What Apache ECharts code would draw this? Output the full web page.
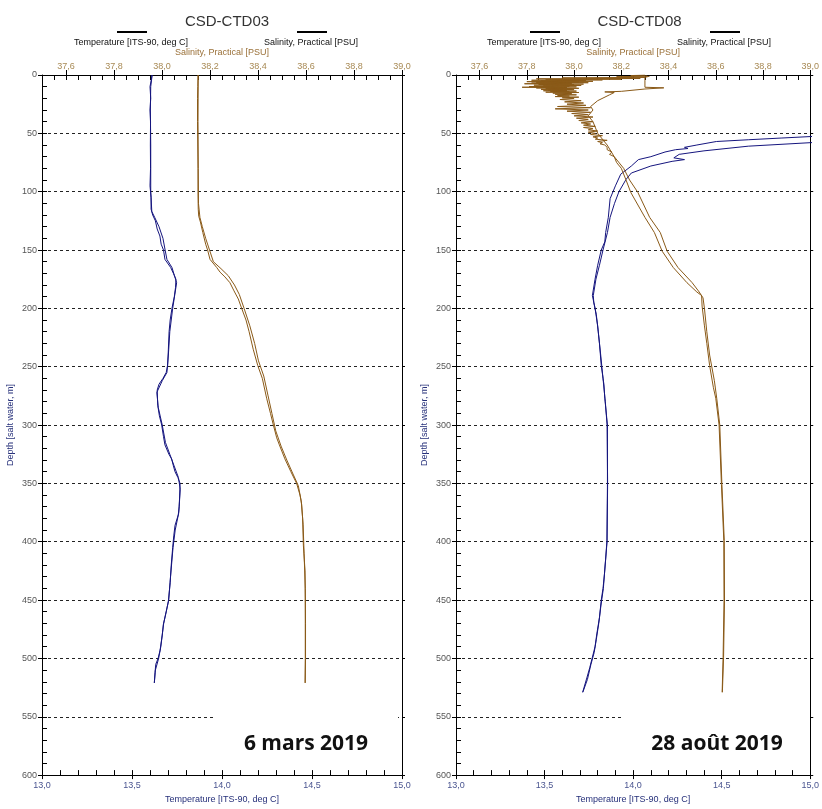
<!DOCTYPE html>
<html><head><meta charset="utf-8">
<script src="https://cdn.jsdelivr.net/npm/echarts@6/dist/echarts.min.js"></script>
<style>html,body{margin:0;padding:0;background:#fff}#c{width:822px;height:809px}</style>
</head><body><div id="c"></div>
<script>
// ---- data ----
const titles = ['CSD-CTD03', 'CSD-CTD08'];
const dates = ['6 mars 2019', '28 août 2019'];
const tempTicks = [13, 15, 0.5];
const salTickLabels = [37.6, 37.8, 38.0, 38.2, 38.4, 38.6, 38.8, 39.0];
const depthTicks = [0, 600, 50];

// CTD03 (depth m, value)
const ctd03TempDown = [[0,13.611],[5,13.606],[10,13.600],[20,13.604],[30,13.600],[40,13.603],[60,13.602],[80,13.603],[95,13.600],[105,13.606],[115,13.606],[120,13.615],[125,13.630],[132,13.640],[138,13.655],[145,13.662],[150,13.675],[158,13.683],[165,13.715],[170,13.730],[175,13.744],[182,13.742],[190,13.735],[200,13.722],[210,13.712],[220,13.706],[235,13.702],[249,13.698],[255,13.690],[260,13.672],[265,13.650],[270,13.640],[283,13.643],[292,13.652],[300,13.665],[310,13.675],[317,13.683],[325,13.705],[329,13.720],[335,13.730],[340,13.739],[345,13.755],[350,13.767],[360,13.765],[370,13.762],[377,13.757],[386,13.739],[395,13.732],[405,13.726],[420,13.718],[435,13.712],[451,13.702],[460,13.690],[471,13.674],[480,13.668],[493,13.656],[500,13.645],[505,13.632],[512,13.628],[521,13.624]];
const ctd03TempUp = [[521,13.624],[510,13.630],[500,13.648],[490,13.660],[470,13.676],[450,13.704],[430,13.714],[405,13.728],[390,13.740],[375,13.760],[355,13.768],[345,13.758],[335,13.734],[325,13.710],[315,13.686],[300,13.668],[285,13.646],[272,13.638],[262,13.668],[255,13.694],[240,13.702],[220,13.710],[200,13.726],[188,13.738],[178,13.748],[172,13.736],[165,13.722],[158,13.694],[150,13.684],[140,13.672],[130,13.650],[122,13.626],[117,13.610],[100,13.604],[60,13.604],[30,13.602],[10,13.604],[0,13.612]];
const ctd03SalDown = [[0,38.150],[10,38.149],[20,38.148],[40,38.148],[60,38.149],[80,38.150],[100,38.150],[115,38.151],[121,38.153],[126,38.160],[135,38.170],[145,38.182],[150,38.190],[158,38.200],[165,38.228],[169,38.242],[173,38.262],[178,38.283],[185,38.300],[192,38.318],[200,38.332],[210,38.350],[220,38.363],[235,38.380],[249,38.399],[260,38.418],[277,38.436],[290,38.452],[300,38.464],[311,38.478],[317,38.489],[329,38.512],[340,38.537],[350,38.561],[360,38.575],[368,38.582],[380,38.586],[403,38.589],[425,38.596],[450,38.597],[475,38.597],[500,38.597],[521,38.596]];
const ctd03SalUp = [[521,38.597],[500,38.598],[470,38.598],[440,38.597],[410,38.592],[385,38.588],[365,38.580],[352,38.568],[342,38.546],[330,38.520],[318,38.496],[305,38.474],[290,38.458],[275,38.442],[258,38.424],[245,38.402],[230,38.386],[215,38.366],[200,38.342],[188,38.322],[180,38.302],[172,38.276],[166,38.246],[160,38.214],[150,38.198],[140,38.182],[130,38.168],[122,38.158],[110,38.152],[80,38.151],[40,38.150],[0,38.151]];

// CTD08
const ctd08TempDown = [[50,15.35],[52,15.10],[54,14.84],[55.5,14.65],[57,14.47],[60,14.36],[62,14.29],[63,14.31],[64,14.24],[66,14.18],[70,14.10],[72.5,14.03],[78,13.99],[85,13.93],[95,13.90],[106,13.87],[122,13.86],[135,13.845],[143,13.84],[150,13.82],[163,13.80],[175,13.785],[189,13.77],[200,13.785],[215,13.80],[230,13.81],[249,13.82],[265,13.835],[277,13.84],[300,13.855],[351,13.855],[399,13.852],[415,13.845],[428,13.838],[440,13.83],[450,13.82],[465,13.81],[479,13.795],[490,13.785],[499,13.77],[508,13.755],[516,13.74],[529,13.715]];
const ctd08TempUp = [[529,13.716],[518,13.742],[505,13.762],[495,13.780],[484,13.792],[470,13.806],[455,13.818],[440,13.832],[420,13.842],[400,13.853],[350,13.856],[300,13.853],[280,13.843],[260,13.830],[240,13.817],[220,13.803],[205,13.792],[195,13.778],[189,13.775],[175,13.79],[163,13.81],[150,13.83],[135,13.855],[122,13.87],[110,13.895],[100,13.92],[89.5,13.96],[84,13.99],[78,14.10],[74,14.22],[72.5,14.29],[71,14.23],[68,14.26],[65,14.40],[61,14.65],[58,15.00],[56,15.30]];
const ctd08SalDown = [[0,38.30],[0.5,38.24],[1,38.31],[1.5,38.18],[2,38.30],[2.5,37.95],[3,38.28],[3.3,37.84],[3.6,38.20],[3.9,37.88],[4.2,38.12],[4.5,37.82],[4.8,38.05],[5.1,37.86],[5.4,38.08],[5.7,37.80],[6.0,38.02],[6.3,37.84],[6.6,38.06],[6.9,37.82],[7.2,37.99],[7.5,37.79],[7.8,38.04],[8.1,37.85],[8.4,38.00],[8.7,37.83],[9.0,38.03],[9.3,37.87],[9.6,37.98],[9.9,37.81],[10.2,38.01],[10.5,37.78],[10.8,37.97],[11.1,37.84],[11.4,38.02],[11.7,37.88],[12.0,37.99],[12.3,37.86],[12.6,38.00],[12.9,37.89],[13.2,37.97],[13.5,37.87],[13.8,38.01],[14.1,37.90],[14.4,37.98],[14.7,37.88],[15.0,38.02],[15.5,37.91],[16.0,37.99],[16.5,37.92],[17.0,38.01],[17.5,37.93],[18.0,37.98],[18.5,37.92],[19.0,38.02],[19.5,37.95],[20,38.00],[21,37.94],[22,38.03],[23,37.96],[24,38.04],[25,37.97],[26,38.05],[27,37.93],[28,38.07],[29,37.92],[30,38.06],[31,37.97],[32,38.07],[33,37.99],[34,38.06],[35,38.00],[36,38.08],[37,38.01],[38,38.06],[39,38.02],[40,38.08],[41,38.03],[42,38.07],[43,38.04],[44,38.09],[45,38.04],[46,38.08],[47,38.06],[48,38.10],[49,38.06],[50,38.09],[51,38.07],[52,38.12],[53,38.08],[54,38.10],[55,38.09],[56,38.14],[57,38.10],[58,38.12],[59,38.11],[60,38.13],[62,38.14],[64,38.14],[66,38.16],[68,38.15],[70,38.17],[75,38.18],[80,38.20],[90,38.22],[100.6,38.24],[122,38.30],[135,38.34],[151,38.373],[165,38.42],[178,38.478],[186,38.52],[189,38.54],[198,38.542],[215,38.552],[230,38.562],[249,38.574],[268,38.59],[277,38.60],[300,38.614],[351,38.624],[399,38.634],[450,38.635],[499,38.631],[529,38.627]];
const ctd08SalUp = [[529,38.628],[499,38.633],[450,38.637],[399,38.636],[351,38.626],[300,38.617],[277,38.604],[262,38.594],[240,38.574],[220,38.562],[200,38.552],[191,38.546],[186,38.530],[178,38.50],[165,38.44],[151,38.394],[135,38.365],[122,38.32],[100.6,38.27],[90,38.235],[80,38.21],[70,38.17],[60,38.14],[50,38.10],[40,38.08],[35,38.06],[30,38.08],[27,38.07],[22,38.10],[17,38.15],[15,38.17],[14.5,38.13],[14,38.20],[12,38.30],[11,38.38],[10.5,38.30],[10,38.30],[5,38.30],[2,38.30],[1,38.32]];

const panels = [
  {tempDown: ctd03TempDown, tempUp: ctd03TempUp, salDown: ctd03SalDown, salUp: ctd03SalUp},
  {tempDown: ctd08TempDown, tempUp: ctd08TempUp, salDown: ctd08SalDown, salUp: ctd08SalUp}
];

// ---- layout / style ----
const gridPos = [{left: 42, top: 75, width: 360, height: 703}, {left: 456, top: 75, width: 357, height: 704}];
const TEMP_C = '#15157e', SAL_C = '#8a5a18';
const FONT = 'Liberation Sans, Arial, sans-serif';
const fmt = v => (Math.round(v * 10) / 10).toFixed(1).replace('.', ',');
const swap = arr => arr.map(p => [p[1], p[0]]);

const grid = [], xAxis = [], yAxis = [], series = [], titleArr = [], graphic = [];
gridPos.forEach((g, i) => {
  grid.push(Object.assign({containLabel: false}, g));
  const xb = xAxis.length;
  xAxis.push({type: 'value', gridIndex: i, position: 'bottom', min: tempTicks[0], max: tempTicks[1], interval: tempTicks[2],
    axisLine: {onZero: false, lineStyle: {color: '#000', width: 1}},
    axisTick: {inside: false, length: 4, lineStyle: {color: '#000'}},
    axisLabel: {formatter: fmt, fontSize: 9, color: '#4a5590', fontFamily: FONT, margin: 6},
    splitLine: {show: false},
    name: 'Temperature [ITS-90, deg C]', nameLocation: 'middle', nameGap: 19,
    nameTextStyle: {fontSize: 9, color: '#26307a', fontFamily: FONT}});
  xAxis.push({type: 'value', gridIndex: i, position: 'bottom', min: tempTicks[0], max: tempTicks[1], interval: 0.1,
    axisLine: {show: false, onZero: false}, axisTick: {inside: true, length: 5, lineStyle: {color: '#000'}},
    axisLabel: {show: false}, splitLine: {show: false}});
  xAxis.push({type: 'value', gridIndex: i, position: 'top', min: 37.5, max: 39.0,
    axisLine: {onZero: false, lineStyle: {color: '#000', width: 1}},
    axisTick: {inside: false, length: 5, customValues: salTickLabels, lineStyle: {color: '#000'}},
    axisLabel: {customValues: salTickLabels, formatter: fmt, fontSize: 9, color: '#a88a55', fontFamily: FONT, margin: 4},
    splitLine: {show: false},
    name: 'Salinity, Practical [PSU]', nameLocation: 'middle', nameGap: 17,
    nameTextStyle: {fontSize: 9, color: '#9a7038', fontFamily: FONT}});
  xAxis.push({type: 'value', gridIndex: i, position: 'top', min: 37.5, max: 39.0, interval: 0.05,
    axisLine: {show: false, onZero: false}, axisTick: {inside: true, length: 5, lineStyle: {color: '#000'}},
    axisLabel: {show: false}, splitLine: {show: false}});
  const yb = yAxis.length;
  yAxis.push({type: 'value', gridIndex: i, position: 'left', inverse: true, min: depthTicks[0], max: depthTicks[1], interval: depthTicks[2],
    axisLine: {onZero: false, lineStyle: {color: '#000', width: 1}},
    axisTick: {inside: false, length: 4, lineStyle: {color: '#000'}},
    axisLabel: {fontSize: 9, color: '#555', fontFamily: FONT, margin: 5},
    splitLine: {show: true, lineStyle: {color: '#222', width: 1, type: [3, 3]}},
    name: 'Depth [salt water, m]', nameLocation: 'middle', nameGap: 27, nameRotate: 90,
    nameTextStyle: {fontSize: 9, color: '#26307a', fontFamily: FONT}});
  yAxis.push({type: 'value', gridIndex: i, position: 'left', inverse: true, min: depthTicks[0], max: depthTicks[1], interval: 10,
    axisLine: {show: false, onZero: false}, axisTick: {inside: true, length: 5, lineStyle: {color: '#000'}},
    axisLabel: {show: false}, splitLine: {show: false}});
  yAxis.push({type: 'value', gridIndex: i, position: 'right', inverse: true, min: depthTicks[0], max: depthTicks[1], interval: depthTicks[2],
    axisLine: {show: true, onZero: false, lineStyle: {color: '#000', width: 1}}, axisTick: {inside: false, length: 3, lineStyle: {color: '#000'}},
    axisLabel: {show: false}, splitLine: {show: false}});

  const p = panels[i];
  const mk = (data, xi, color, name) => ({type: 'line', name, xAxisIndex: xi, yAxisIndex: yb, data: swap(data),
    showSymbol: false, symbol: 'none', clip: true, lineStyle: {color, width: 1}, silent: true, z: 3});
  series.push(mk(p.tempDown, xb, TEMP_C, 'Temperature'));
  series.push(mk(p.tempUp, xb, TEMP_C, 'Temperature up'));
  series.push(mk(p.salDown, xb + 2, SAL_C, 'Salinity'));
  series.push(mk(p.salUp, xb + 2, SAL_C, 'Salinity up'));

  const cx = g.left + g.width / 2;
  titleArr.push({text: titles[i], left: cx, top: 9, textAlign: 'center',
    textStyle: {fontSize: 15, fontWeight: 'normal', color: '#333', fontFamily: FONT}});
  const off = i === 0 ? 0 : 413;
  graphic.push({type: 'line', shape: {x1: 117 + off, y1: 32, x2: 147 + off, y2: 32}, style: {stroke: '#000', lineWidth: 2}});
  graphic.push({type: 'line', shape: {x1: 297 + off, y1: 32, x2: 327 + off, y2: 32}, style: {stroke: '#000', lineWidth: 2}});
  graphic.push({type: 'text', x: 131 + off, y: 43, style: {text: 'Temperature [ITS-90, deg C]', fill: '#111', font: '9px ' + FONT, textAlign: 'center', textVerticalAlign: 'middle'}});
  graphic.push({type: 'text', x: 311 + off, y: 43, style: {text: 'Salinity, Practical [PSU]', fill: '#111', font: '9px ' + FONT, textAlign: 'center', textVerticalAlign: 'middle'}});
  // white box behind the date label (hides part of the 550 m gridline)
  const bx = i === 0 ? 213 : 624;
  const y550 = g.top + g.height * 550 / 600;
  graphic.push({type: 'rect', shape: {x: bx, y: y550 - 4, width: g.left + g.width - 4 - bx, height: 8}, style: {fill: '#fff'}, z: 1});
  graphic.push({type: 'text', x: i === 0 ? 306 : 717, y: 744, z: 10,
    style: {text: dates[i], fill: '#111', font: 'bold 21px "Open Sans", sans-serif', textAlign: 'center', textVerticalAlign: 'middle'}});
});

const chart = echarts.init(document.getElementById('c'), null, {renderer: 'canvas'});
chart.setOption({animation: false, backgroundColor: '#fff', title: titleArr, grid, xAxis, yAxis, series, graphic});
</script></body></html>
